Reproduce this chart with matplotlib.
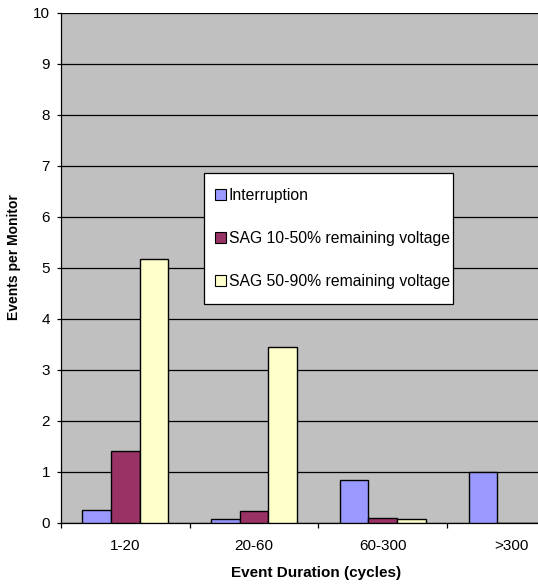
import matplotlib
matplotlib.use("Agg")
import matplotlib.pyplot as plt
import numpy as np
from matplotlib.patches import Patch, Rectangle

plt.rcParams['font.family'] = ['Liberation Sans', 'DejaVu Sans']

categories = ['1-20', '20-60', '60-300', '>300']
series_names = ['Interruption', 'SAG 10-50% remaining voltage', 'SAG 50-90% remaining voltage']
interruption = [0.25, 0.08, 0.84, 1.0]
sag_10_50 = [1.40, 0.23, 0.09, 0.0]
sag_50_90 = [5.17, 3.44, 0.08, 0.0]
colors = ['#9999FF', '#993366', '#FFFFCC']

W, H = 538, 586
fig = plt.figure(figsize=(W / 100, H / 100), dpi=100)
left, right = 61, 61 + 4 * 128.7
bottom, top = 522.7, 12.7
ax = fig.add_axes([left / W, (H - bottom) / H, (right - left) / W, (bottom - top) / H])
ax.set_facecolor('#C0C0C0')

x = np.arange(len(categories))
bw = 0.222
for i, (vals, c) in enumerate(zip([interruption, sag_10_50, sag_50_90], colors)):
    ax.bar(x + (i - 1) * bw, vals, bw, color=c, edgecolor='black', linewidth=1.0, zorder=3)

ax.set_xlim(-0.5, len(categories) - 0.5)
ax.set_ylim(0, 10)
ax.set_yticks(range(0, 11))
ax.yaxis.grid(True, color='black', linewidth=0.9, zorder=1)
ax.set_axisbelow(True)
ax.set_xticks(x)
ax.set_xticklabels(categories, fontsize=11)
ax.set_xticks(np.arange(-0.5, len(categories)), minor=True)
ax.tick_params(axis='x', which='major', length=0, pad=12)
ax.tick_params(axis='x', which='minor', length=3.6, direction='out', width=0.9)
ax.tick_params(axis='y', length=3, direction='out', width=0.9, labelsize=11, pad=5)
for s in ['top', 'right']:
    ax.spines[s].set_visible(False)
for s in ['left', 'bottom']:
    ax.spines[s].set_color('black')
    ax.spines[s].set_linewidth(0.9)

fig.text(14 / W, (H - 257) / H, 'Events per Monitor', fontsize=10, fontweight='bold',
         rotation=90, ha='center', va='center')
fig.text(316 / W, (H - 573) / H, 'Event Duration (cycles)', fontsize=11,
         fontweight='bold', ha='center', va='center')

# legend box
box = Rectangle((204 / W, (H - 304) / H), (452.7 - 204) / W, (304 - 172.7) / H,
                transform=fig.transFigure, facecolor='white', edgecolor='black',
                linewidth=0.9, zorder=2)
fig.patches.append(box)

handles = [Patch(facecolor=c, edgecolor='black', linewidth=0.8) for c in colors]
leg = fig.legend(handles, series_names, loc='upper left',
                 bbox_to_anchor=(199 / W, (H - 172.7) / H), bbox_transform=fig.transFigure,
                 fontsize=11.3, frameon=False,
                 handlelength=0.7, handleheight=0.7, handletextpad=0.2,
                 labelspacing=1.78, borderpad=1.0, borderaxespad=0)
leg.set_zorder(3)

fig.savefig('out.png', dpi=100)
